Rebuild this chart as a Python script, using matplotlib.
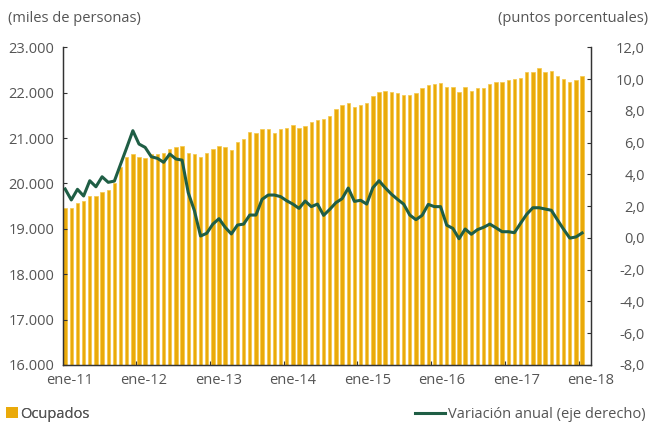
import numpy as np
import matplotlib
matplotlib.use("Agg")
import matplotlib.pyplot as plt
from matplotlib.lines import Line2D
from matplotlib.patches import Patch

plt.rcParams['font.family'] = ['Open Sans', 'DejaVu Sans']

# Ocupados (miles de personas), monthly ene-11 .. ene-18
ocupados = [
    19458, 19458, 19568, 19612, 19722, 19722, 19810, 19862, 20016, 20354, 20588, 20654,
    20588, 20559, 20647, 20647, 20676, 20758, 20793, 20823, 20676, 20647, 20588, 20676,
    20764, 20823, 20793, 20735, 20912, 20970, 21137, 21110, 21198, 21198, 21110, 21198,
    21227, 21286, 21227, 21256, 21344, 21400, 21425, 21485, 21632, 21720, 21778, 21690,
    21720, 21775, 21925, 22006, 22035, 22006, 21984, 21954, 21954, 21984, 22101, 22160,
    22189, 22211, 22123, 22123, 22006, 22123, 22035, 22094, 22094, 22183, 22240, 22240,
    22270, 22300, 22328, 22447, 22447, 22535, 22447, 22476, 22359, 22300, 22240, 22270,
    22359,
]

# Variación anual (puntos porcentuales, eje derecho)
variacion = [
    3.08, 2.39, 3.06, 2.64, 3.60, 3.22, 3.85, 3.50, 3.58, 4.63, 5.68, 6.75,
    5.91, 5.70, 5.11, 5.01, 4.76, 5.28, 4.97, 4.90, 2.85, 1.72, 0.12, 0.29,
    0.87, 1.21, 0.67, 0.25, 0.81, 0.87, 1.44, 1.44, 2.43, 2.70, 2.70, 2.60,
    2.34, 2.13, 1.86, 2.32, 1.97, 2.13, 1.42, 1.80, 2.22, 2.47, 3.14, 2.30,
    2.37, 2.13, 3.16, 3.60, 3.16, 2.76, 2.43, 2.13, 1.44, 1.15, 1.42, 2.11,
    1.97, 1.97, 0.80, 0.60, -0.05, 0.56, 0.23, 0.52, 0.67, 0.87, 0.64, 0.39,
    0.39, 0.33, 0.92, 1.49, 1.90, 1.90, 1.82, 1.74, 1.13, 0.54, -0.01, 0.06,
    0.31,
]

x_labels = ['ene-11', 'ene-12', 'ene-13', 'ene-14', 'ene-15', 'ene-16', 'ene-17', 'ene-18']

bar_color = '#EAAA0A'
line_color = '#1F5E45'
text_color = '#555555'

x = np.arange(len(ocupados))

fig = plt.figure(figsize=(6.51, 4.24), dpi=100)
ax = fig.add_axes([0.0963, 0.1392, 0.8111, 0.7492])

ax.bar(x, ocupados, width=0.55, color=bar_color, edgecolor='#F4C848', linewidth=0.5)
ax.set_ylim(16000, 23000)
ax.set_xlim(-0.4, 84.5)
ax.set_yticks(np.arange(16000, 23001, 1000))
ax.set_yticklabels([f"{v:,}".replace(',', '.') for v in range(16000, 23001, 1000)])

# tick marks between years, labels placed separately
ax.set_xticks([11.5 + 12 * k for k in range(7)])
ax.set_xticklabels([])
ax.set_xticks([0.7 + 12.1 * k for k in range(len(x_labels))], minor=True)
ax.set_xticklabels(x_labels, minor=True)
ax.tick_params(axis='x', which='major', direction='in', length=3, color='#333333')
ax.tick_params(axis='x', which='minor', length=0, pad=6, labelsize=10.5, labelcolor=text_color)
ax.tick_params(axis='y', direction='in', length=3, pad=6, labelsize=10.5,
               labelcolor=text_color, color='#333333')

ax2 = ax.twinx()
ax2.plot(x, variacion, color=line_color, linewidth=2.2)
ax2.set_ylim(-8, 12)
ax2.set_yticks(np.arange(-8, 12.1, 2))
ax2.set_yticklabels([f"{v:.1f}".replace('.', ',') for v in np.arange(-8, 12.1, 2)])
ax2.tick_params(axis='y', direction='in', length=3, pad=39, labelsize=10.5,
                labelcolor=text_color, color='#333333')
for lab in ax2.get_yticklabels():
    lab.set_horizontalalignment('right')

for a in (ax, ax2):
    a.spines['top'].set_visible(False)
    for s in ('left', 'right', 'bottom'):
        a.spines[s].set_color('#333333')
        a.spines[s].set_linewidth(0.9)

fig.text(0.012, 0.957, '(miles de personas)', fontsize=10.5, color=text_color, va='center')
fig.text(0.995, 0.957, '(puntos porcentuales)', fontsize=10.5, color=text_color,
         va='center', ha='right')

leg1 = fig.legend(handles=[Patch(facecolor=bar_color, edgecolor='none')], labels=['Ocupados'],
                  loc='center left', bbox_to_anchor=(0.0, 0.023), frameon=False,
                  fontsize=10.5, handlelength=0.8, handleheight=0.8, handletextpad=0.2,
                  labelcolor=text_color, borderaxespad=0)
leg2 = fig.legend(handles=[Line2D([0], [0], color=line_color, linewidth=2.2)],
                  labels=['Variación anual (eje derecho)'],
                  loc='center right', bbox_to_anchor=(1.0, 0.023), frameon=False,
                  fontsize=10.5, handlelength=2.0, handletextpad=0.2,
                  labelcolor=text_color, borderaxespad=0)
fig.add_artist(leg1)

fig.savefig('out.png', dpi=100)
